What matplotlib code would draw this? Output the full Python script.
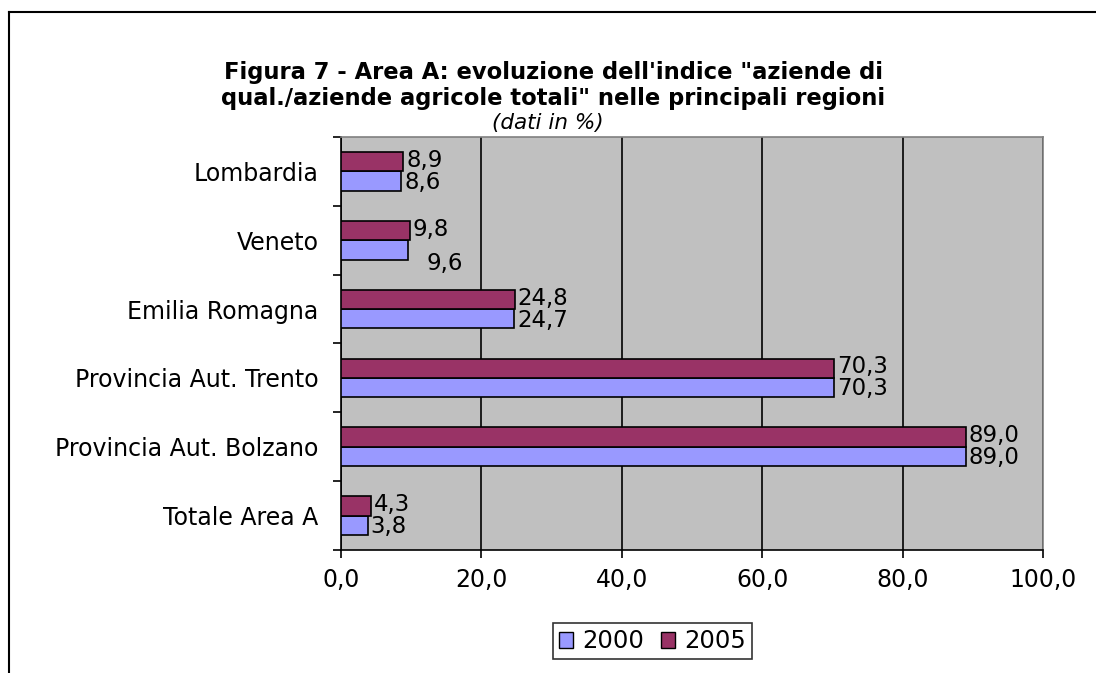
import matplotlib.pyplot as plt
from matplotlib.lines import Line2D
import numpy as np

regioni = ["Lombardia", "Veneto", "Emilia Romagna", "Provincia Aut. Trento",
           "Provincia Aut. Bolzano", "Totale Area A"]
v2000 = [8.6, 9.6, 24.7, 70.3, 89.0, 3.8]
v2005 = [8.9, 9.8, 24.8, 70.3, 89.0, 4.3]
xticks = [0, 20, 40, 60, 80, 100]

C2000 = "#9999FF"
C2005 = "#993366"

def fmt(v):
    return f"{v:.1f}".replace(".", ",")

fig = plt.figure(figsize=(10.96, 6.73), dpi=100)
ax = fig.add_axes([0.3111, 0.1828, 0.6405, 0.6136])
ax.set_facecolor("#C0C0C0")

y = np.arange(len(regioni))
h = 0.28
ax.barh(y + h / 2, v2000, height=h, color=C2000, edgecolor="black", linewidth=1.2, zorder=3)
ax.barh(y - h / 2, v2005, height=h, color=C2005, edgecolor="black", linewidth=1.2, zorder=3)

FS_VAL = 16.5
for i, (a, b) in enumerate(zip(v2000, v2005)):
    ax.annotate(fmt(b), (b, y[i] - h / 2), xytext=(2, 1), textcoords="offset points",
                va="center", ha="left", fontsize=FS_VAL)
    if regioni[i] == "Veneto":
        ax.annotate(fmt(a), (a, y[i] + h / 2), xytext=(13, -10), textcoords="offset points",
                    va="center", ha="left", fontsize=FS_VAL)
    else:
        ax.annotate(fmt(a), (a, y[i] + h / 2), xytext=(2, -1), textcoords="offset points",
                    va="center", ha="left", fontsize=FS_VAL)

ax.set_xlim(0, 100)
ax.set_ylim(len(regioni) - 0.5, -0.5)
ax.set_xticks(xticks)
ax.set_xticklabels([fmt(v) for v in xticks], fontsize=17)
ax.set_yticks(y)
ax.set_yticklabels(regioni, fontsize=17)
ax.tick_params(axis="y", length=0, pad=16)
ax.set_yticks(np.arange(len(regioni) + 1) - 0.5, minor=True)
ax.tick_params(axis="y", which="minor", length=6, width=1.2, direction="out")
ax.tick_params(axis="x", length=6, width=1.2, direction="out", pad=7)
ax.grid(axis="x", color="black", linewidth=1.2, zorder=1)
ax.set_axisbelow(True)
for s in ["top", "right"]:
    ax.spines[s].set_color("#808080")
    ax.spines[s].set_linewidth(1.2)
for s in ["left", "bottom"]:
    ax.spines[s].set_color("black")
    ax.spines[s].set_linewidth(1.2)

fig.text(0.505, 1 - 73 / 673, "Figura 7 - Area A: evoluzione dell'indice \"aziende di",
         ha="center", va="center", fontsize=16.3, fontweight="bold")
fig.text(0.505, 1 - 99 / 673, "qual./aziende agricole totali\" nelle principali regioni",
         ha="center", va="center", fontsize=16.3, fontweight="bold")
fig.text(0.50, 1 - 123 / 673, "(dati in %)", ha="center", va="center", fontsize=15.5,
         style="italic")

handles = [plt.Rectangle((0, 0), 1, 1, facecolor=C2000, edgecolor="black"),
           plt.Rectangle((0, 0), 1, 1, facecolor=C2005, edgecolor="black")]
leg = fig.legend(handles, ["2000", "2005"], loc="center", bbox_to_anchor=(0.595, 0.047),
                 ncol=2, fontsize=17.5, frameon=True, fancybox=False, edgecolor="black",
                 handlelength=0.6, handleheight=0.6, handletextpad=0.35, columnspacing=0.7,
                 borderpad=0.25, borderaxespad=0)
leg.get_frame().set_linewidth(1.2)

# outer chart frame (top and left edges visible)
fig.add_artist(Line2D([0.0078, 1.0], [0.9829, 0.9829], color="black", linewidth=1.5,
                      transform=fig.transFigure))
fig.add_artist(Line2D([0.0078, 0.0078], [0.0, 0.9829], color="black", linewidth=1.5,
                      transform=fig.transFigure))

fig.savefig("out.png", dpi=100)
